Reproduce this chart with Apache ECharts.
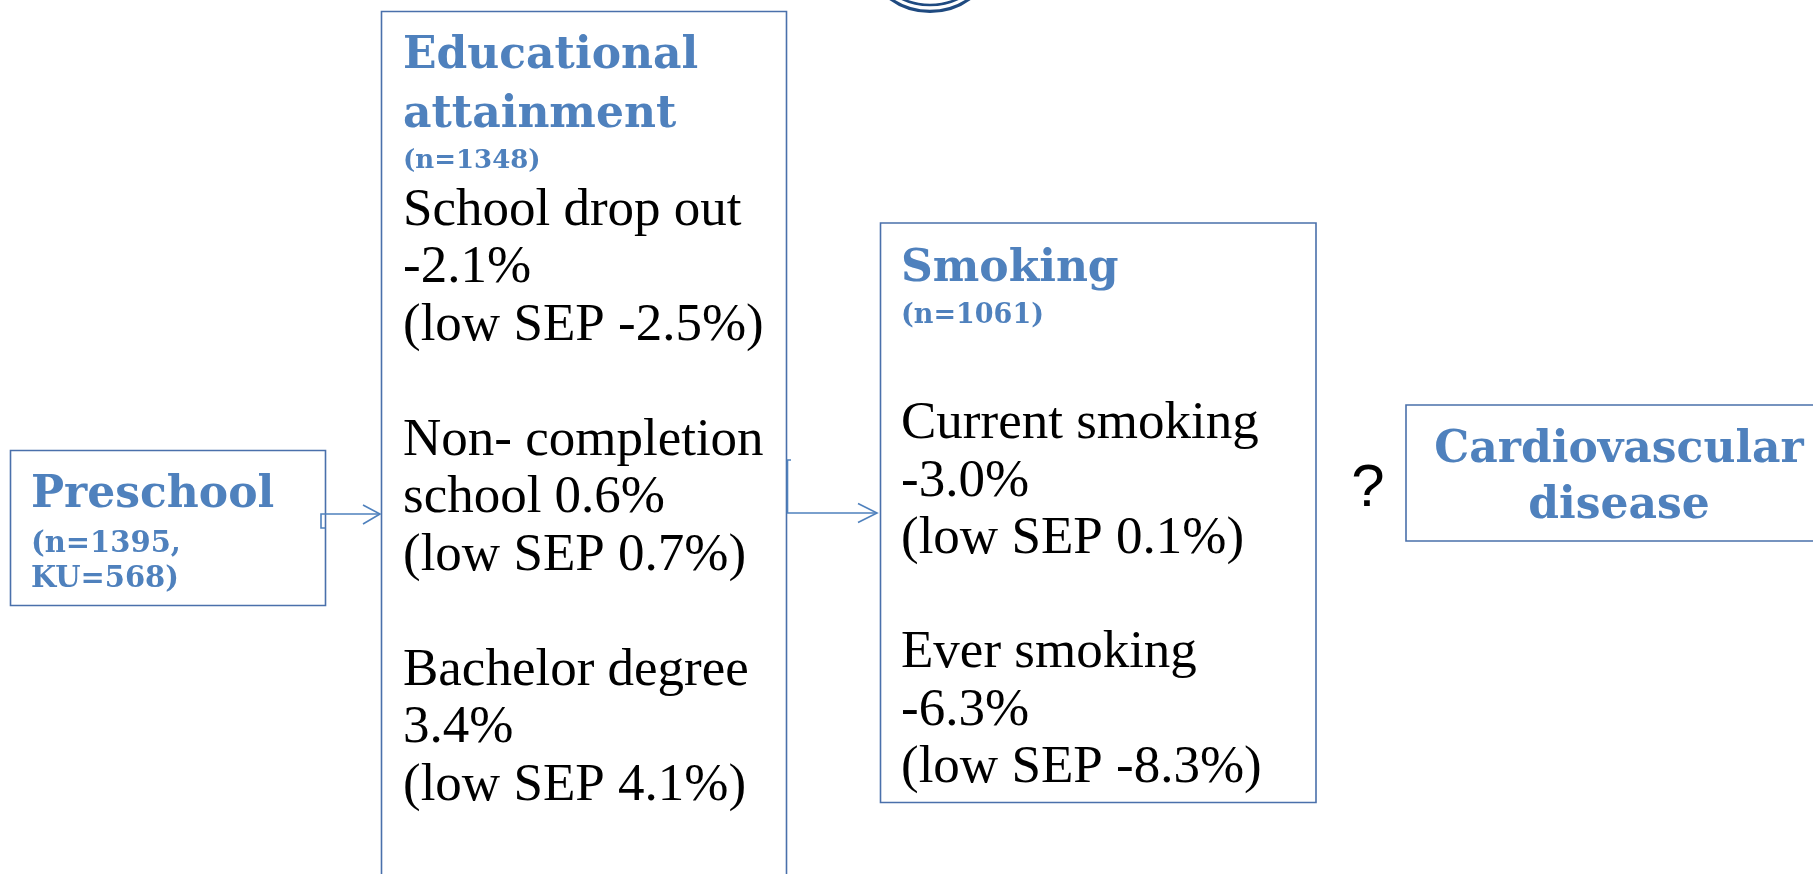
<!DOCTYPE html>
<html><head><meta charset="utf-8">
<script src="https://cdn.jsdelivr.net/npm/echarts@6/dist/echarts.min.js"></script>
<style>html,body{margin:0;padding:0;background:#fff}#c{width:1813px;height:874px}</style>
</head><body><div id="c"></div>
<script>
// ---- content / values ----
const preschoolTitle = ['Preschool'];
const preschoolN = ['(n=1395,', 'KU=568)'];
const eduTitle = ['Educational', 'attainment'];
const eduN = ['(n=1348)'];
const eduOutcomes = [['School drop out', ''], ['Non- completion', 'school '], ['Bachelor degree', '']];
const eduEffect = [-2.1, 0.6, 3.4];
const eduLowSEP = [-2.5, 0.7, 4.1];
const smokTitle = ['Smoking'];
const smokN = ['(n=1061)'];
const smokOutcomes = [['Current smoking', ''], ['Ever smoking', '']];
const smokEffect = [-3.0, -6.3];
const smokLowSEP = [0.1, -8.3];
const cvdTitle = ['Cardiovascular', 'disease'];
const linkLabel = ['?'];

// ---- styles / layout ----
const BLUE = '#4f81bd', BORDER = '#4a70ab', NAVY = '#1f4a80';
const BOLD = '"DejaVu Serif", serif', REG = '"Liberation Serif", serif';
const L = {
  pre:  {x: 10.5, y: 450.5, w: 315, h: 155},
  edu:  {x: 381.5, y: 11.5, w: 405, h: 900},
  smk:  {x: 880.5, y: 223, w: 435.5, h: 579.5},
  cvd:  {x: 1406, y: 405, w: 440, h: 136}
};

function fmt(v) { return v.toFixed(1) + '%'; }
function buildLines(outcomes, eff, low) {
  const out = [];
  outcomes.forEach((o, i) => {
    if (i > 0) out.push('');
    out.push(o[0]);
    out.push(o[1] + fmt(eff[i]));
    out.push('(low SEP ' + fmt(low[i]) + ')');
  });
  return out;
}
function txt(str, x, base, size, fam, weight, color, align, k) {
  return {
    type: 'text', silent: true,
    style: {
      text: str, x: x, y: base - (k || 0.26) * size,
      font: (weight || 'normal') + ' ' + size + 'px ' + fam,
      fill: color, align: align || 'left', verticalAlign: 'middle'
    }
  };
}
function box(b) {
  return {type: 'rect', silent: true, shape: {x: b.x, y: b.y, width: b.w, height: b.h},
          style: {fill: 'none', stroke: BORDER, lineWidth: 1.6}};
}
function line(pts, w) {
  return {type: 'polyline', silent: true, shape: {points: pts},
          style: {fill: 'none', stroke: BLUE, lineWidth: w || 1.6}};
}

const g = [];
// logo arcs
g.push({type: 'circle', silent: true, shape: {cx: 930, cy: -56.6, r: 68}, style: {fill: 'none', stroke: NAVY, lineWidth: 3.2}});
g.push({type: 'circle', silent: true, shape: {cx: 930, cy: -60, r: 65}, style: {fill: 'none', stroke: NAVY, lineWidth: 2.6}});

// boxes
g.push(box(L.pre), box(L.edu), box(L.smk), box(L.cvd));

// connectors
g.push(line([[L.pre.x + L.pre.w, 528], [321, 528], [321, 514], [380, 514]]));
g.push(line([[363, 505], [380, 514], [363, 524]]));
g.push(line([[791, 460], [787.5, 460], [787.5, 513], [877, 513]]));
g.push(line([[858, 503.5], [877, 513], [858, 522.5]]));

// preschool
g.push(txt(preschoolTitle[0], 31, 507, 44, BOLD, 'bold', BLUE));
preschoolN.forEach((s, i) => g.push(txt(s, 31, 552 + i * 35, 29, BOLD, 'bold', BLUE)));

// education
eduTitle.forEach((s, i) => g.push(txt(s, 403, 68 + i * 59, 44, BOLD, 'bold', BLUE)));
g.push(txt(eduN[0], 403, 168, 26, BOLD, 'bold', BLUE));
buildLines(eduOutcomes, eduEffect, eduLowSEP).forEach((s, i) => {
  if (s) g.push(txt(s, 403, 223 + i * 57.5, 53, REG, 'normal', '#000', 'left', 0.23));
});

// smoking
g.push(txt(smokTitle[0], 901, 281.5, 44, BOLD, 'bold', BLUE));
g.push(txt(smokN[0], 901, 323, 27, BOLD, 'bold', BLUE));
buildLines(smokOutcomes, smokEffect, smokLowSEP).forEach((s, i) => {
  if (s) g.push(txt(s, 901, 436.5 + i * 57.3, 53, REG, 'normal', '#000', 'left', 0.23));
});

// link label
g.push(txt(linkLabel[0], 1368, 506, 60, '"Liberation Sans", Arial, sans-serif', 'normal', '#000', 'center', 0.27));

// cvd
cvdTitle.forEach((s, i) => g.push(txt(s, 1619, 462.5 + i * 55.5, 44, BOLD, 'bold', BLUE, 'center')));

const chart = echarts.init(document.getElementById('c'), null, {renderer: 'canvas'});
chart.setOption({animation: false, backgroundColor: '#fff', graphic: g});
</script>
</body></html>
